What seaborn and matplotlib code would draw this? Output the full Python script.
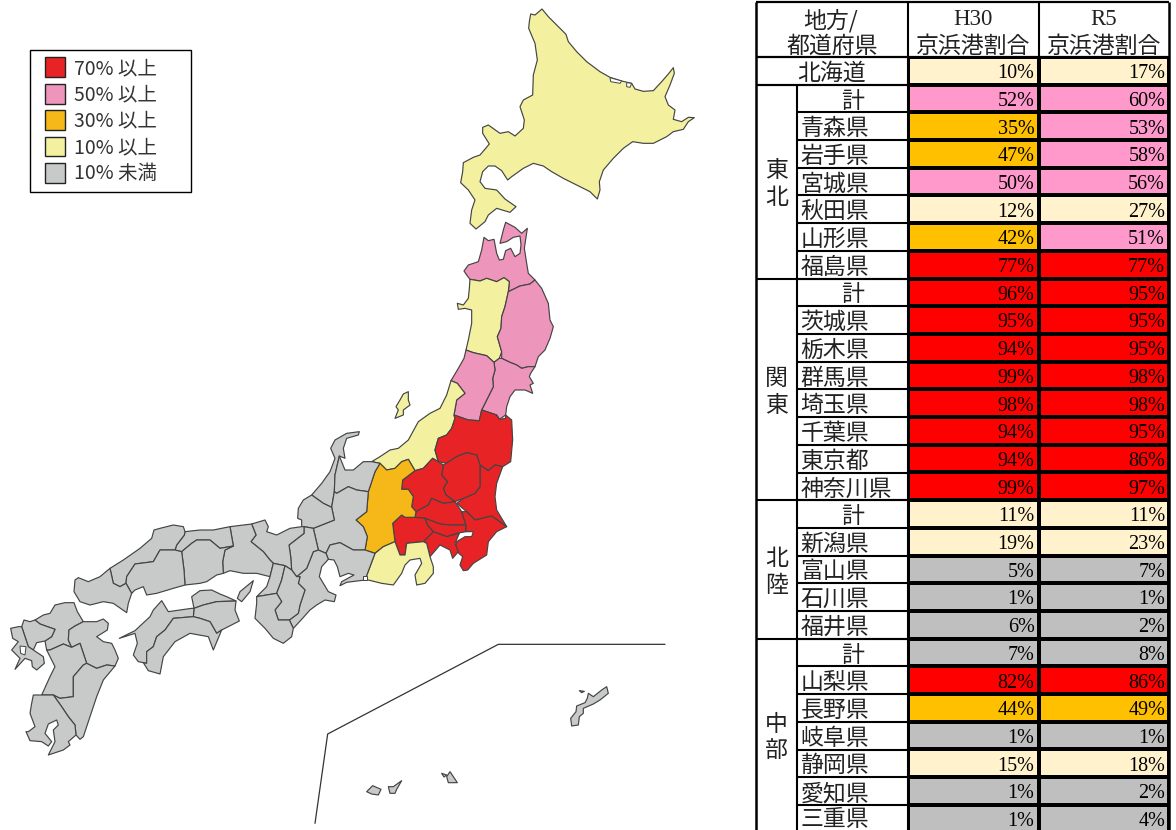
import numpy as np
import pandas as pd
import seaborn as sns
import matplotlib.pyplot as plt
from matplotlib.colors import ListedColormap, BoundaryNorm
from matplotlib.legend_handler import HandlerPatch
from matplotlib.patches import Patch, Polygon

# table data
regions = ['東北', '関東', '北陸', '中部']
region_sizes = [7, 8, 5, 7]
names = ['北海道',
         '計', '青森県', '岩手県', '宮城県', '秋田県', '山形県', '福島県',
         '計', '茨城県', '栃木県', '群馬県', '埼玉県', '千葉県', '東京都', '神奈川県',
         '計', '新潟県', '富山県', '石川県', '福井県',
         '計', '山梨県', '長野県', '岐阜県', '静岡県', '愛知県', '三重県']
h30 = [10,
       52, 35, 47, 50, 12, 42, 77,
       96, 95, 94, 99, 98, 94, 94, 99,
       11, 19, 5, 1, 6,
       7, 82, 44, 1, 15, 1, 1]
r5 = [17,
      60, 53, 58, 56, 27, 51, 77,
      95, 95, 95, 98, 98, 95, 86, 97,
      11, 23, 7, 1, 2,
      8, 86, 49, 1, 18, 2, 4]

# classes
bins = [0, 10, 30, 50, 70, 101]
legend_labels = ['70% 以上', '50% 以上', '30% 以上', '10% 以上', '10% 未満']
table_colors = ['#BFBFBF', '#FFF2CC', '#FFC000', '#FF99CC', '#FF0000']
map_colors = ['#C8CAC9', '#F3F19F', '#F6B818', '#EE95BC', '#E82325']

# prefecture outlines: (left, top of the trace window), then points at 3x
north = (440, 0)
tohoku = (340, 210)
kanto = (340, 400)
west = (0, 420)
south = (300, 630)

outlines = {
    '北海道': (north, [(272,42),(285,45),(306,27),(325,50),(350,75),(378,103),(385,125),(410,155),(440,185),(480,215),(510,232),(545,243),(575,250),(585,267),(610,274),(640,272),(665,245),(685,222),(700,203),(703,220),(690,255),(675,290),(685,315),(705,330),(700,358),(725,365),(745,352),(763,353),(745,365),(730,388),(700,395),(680,410),(660,420),(640,430),(610,430),(578,425),(550,445),(520,475),(490,510),(478,545),(480,570),(472,597),(450,575),(410,555),(370,535),(335,515),(310,498),(280,490),(250,505),(215,530),(203,540),(185,512),(165,498),(145,498),(128,515),(120,545),(135,565),(170,570),(195,597),(228,620),(210,637),(170,625),(145,645),(135,665),(108,687),(90,670),(95,630),(105,600),(85,570),(62,548),(68,515),(70,488),(100,472),(120,465),(148,432),(128,400),(128,382),(145,375),(180,400),(205,395),(225,408),(250,385),(253,360),(240,320),(250,300),(278,285),(280,225),(292,180),(285,130),(266,85),(268,65)]),
    '青森県': (tohoku, [(372,183),(385,165),(415,155),(425,120),(432,82),(445,92),(462,88),(470,130),(478,150),(490,148),(497,122),(512,115),(525,140),(540,130),(543,105),(540,78),(520,82),(500,95),(480,100),(490,60),(497,37),(525,52),(545,70),(562,55),(553,115),(560,160),(565,190),(585,210),(570,222),(540,228),(505,245),(508,215),(492,203),(470,215),(440,205),(420,213),(390,208),(380,195)]),
    '秋田県': (tohoku, [(390,208),(420,213),(440,205),(470,215),(492,203),(508,215),(505,245),(495,290),(485,320),(483,355),(472,380),(485,425),(478,445),(462,457),(440,437),(400,428),(378,420),(385,390),(395,340),(395,300),(375,295),(355,298),(352,280),(370,285),(385,265),(388,235)]),
    '岩手県': (tohoku, [(505,245),(540,228),(570,222),(585,210),(605,235),(625,280),(630,330),(640,350),(630,385),(615,420),(595,440),(585,470),(565,470),(545,475),(530,465),(510,457),(485,445),(485,425),(472,380),(483,355),(485,320),(495,290)]),
    '宮城県': (tohoku, [(485,445),(510,457),(530,465),(545,475),(565,470),(585,470),(572,490),(568,500),(580,520),(570,525),(578,550),(555,540),(525,540),(510,560),(500,590),(497,615),(478,628),(470,615),(440,605),(425,600),(440,570),(460,530),(458,505),(465,480),(462,457),(478,445)]),
    '山形県': (tohoku, [(378,420),(400,428),(440,437),(462,457),(465,480),(458,505),(460,530),(440,570),(425,600),(418,632),(385,630),(342,615),(350,570),(375,550),(352,520),(333,512),(355,475),(372,445)]),
    '佐渡': (tohoku, [(205,545),(205,570),(210,585),(190,600),(190,615),(165,625),(175,600),(168,590),(180,570),(190,552)]),
    '新潟県': (kanto, [(333,-58),(352,-50),(375,-20),(350,0),(342,45),(345,55),(335,85),(320,105),(295,115),(285,150),(295,185),(278,175),(250,205),(225,212),(205,178),(185,185),(165,205),(140,210),(120,190),(95,185),(120,170),(150,150),(175,145),(205,120),(235,65),(270,40),(300,25),(320,-15)]),
    '福島県': (kanto, [(345,55),(342,45),(385,60),(418,62),(425,30),(440,35),(470,45),(478,58),(497,55),(497,45),(515,60),(518,120),(512,185),(488,200),(465,195),(445,212),(420,195),(410,165),(380,158),(350,170),(320,190),(295,185),(285,150),(295,115),(320,105),(335,85)]),
    '茨城県': (kanto, [(488,200),(470,250),(465,290),(470,330),(500,380),(455,348),(405,360),(380,335),(350,310),(370,295),(405,280),(420,260),(420,195),(445,212),(465,195)]),
    '栃木県': (kanto, [(380,158),(410,165),(420,195),(420,260),(405,280),(370,295),(345,305),(318,285),(310,265),(322,245),(305,225),(310,195),(350,170)]),
    '群馬県': (kanto, [(278,175),(295,185),(310,195),(305,225),(322,245),(310,265),(318,285),(345,305),(310,310),(275,295),(265,315),(228,335),(215,320),(220,290),(205,268),(185,268),(188,240),(225,212),(250,205)]),
    '埼玉県': (kanto, [(228,335),(265,315),(275,295),(310,310),(345,305),(365,335),(378,375),(330,375),(300,372),(255,355),(225,352)]),
    '東京都': (kanto, [(255,355),(300,372),(330,375),(378,375),(378,395),(350,400),(320,410),(280,395),(262,375)]),
    '千葉県': (kanto, [(365,335),(380,335),(405,360),(455,348),(500,380),(470,395),(445,425),(440,465),(400,490),(383,510),(370,512),(360,495),(368,470),(345,450),(350,425),(375,410),(395,410),(400,395),(378,395),(378,375)]),
    '神奈川県': (kanto, [(280,395),(320,410),(358,400),(345,430),(355,455),(338,475),(330,450),(300,435),(270,470),(260,430),(250,425)]),
    '山梨県': (kanto, [(225,352),(255,355),(262,375),(280,395),(250,425),(200,430),(195,465),(180,465),(165,425),(158,370),(185,345),(195,352)]),
    '長野県': (kanto, [(120,190),(140,210),(165,205),(185,185),(205,178),(225,212),(188,240),(185,268),(205,268),(220,290),(215,320),(228,335),(225,352),(195,352),(185,345),(158,370),(165,425),(130,440),(105,460),(75,450),(82,410),(70,380),(48,360),(80,335),(85,275),(105,215)]),
    '静岡県': (kanto, [(165,425),(180,465),(195,465),(200,430),(250,425),(260,430),(270,470),(280,500),(280,520),(255,550),(230,555),(225,525),(245,490),(240,475),(210,480),(195,495),(185,520),(160,555),(125,550),(85,540),(75,540),(105,460),(130,440)]),
    '石川県': (west, [(1078,35),(1075,45),(1040,55),(1030,85),(1035,115),(1018,108),(1005,165),(1003,215),(995,262),(970,250),(935,225),(965,190),(990,155),(1005,115),(992,85),(1005,60),(1040,40)]),
    '富山県': (west, [(1018,108),(1035,150),(1060,150),(1090,125),(1115,125),(1140,130),(1125,155),(1105,215),(1070,210),(1045,200),(1010,220),(1003,215),(1005,165)]),
    '岐阜県': (west, [(995,262),(1003,215),(1010,220),(1045,200),(1070,210),(1105,215),(1100,275),(1068,300),(1090,320),(1102,350),(1095,390),(1060,390),(1020,368),(990,375),(978,400),(955,390),(940,325),(1003,300)]),
    '福井県': (west, [(935,225),(970,250),(995,262),(1003,300),(940,325),(912,320),(905,320),(905,300),(893,295),(895,265),(910,240)]),
    '愛知県': (west, [(978,400),(990,375),(1020,368),(1060,390),(1095,390),(1125,400),(1095,480),(1040,487),(1020,497),(1025,485),(1062,465),(1045,460),(1020,470),(1012,440),(1002,420),(985,418)]),
    '三重県': (west, [(955,390),(978,400),(985,418),(965,440),(958,470),(985,515),(1008,525),(1003,545),(975,540),(950,555),(930,570),(905,598),(880,625),(868,600),(895,580),(900,555),(915,510),(895,490),(900,470),(890,470),(920,445),(940,395)]),
    '滋賀県': (west, [(867,375),(912,340),(912,320),(940,325),(955,390),(940,395),(920,445),(890,470),(875,450),(872,410)]),
    '京都府': (west, [(755,312),(795,300),(805,320),(800,335),(830,345),(870,325),(905,320),(912,320),(912,340),(867,375),(872,410),(875,450),(855,437),(820,430),(810,420),(790,395),(753,365),(768,345)]),
    '兵庫県': (west, [(690,320),(755,312),(768,345),(753,365),(790,395),(810,420),(820,430),(810,470),(770,460),(730,460),(690,452),(670,460),(668,425),(675,390),(700,378)]),
    '大阪府': (west, [(820,430),(855,437),(845,480),(830,520),(800,525),(770,530),(800,500),(810,470)]),
    '奈良県': (west, [(855,437),(875,450),(890,470),(900,470),(895,490),(915,510),(900,555),(895,580),(868,600),(835,600),(825,570),(845,545),(830,520),(845,480)]),
    '和歌山県': (west, [(770,530),(800,525),(830,520),(845,545),(825,570),(835,600),(868,600),(880,625),(875,650),(850,670),(820,655),(795,625),(765,595),(770,550)]),
    '淡路島': (west, [(760,482),(750,515),(725,545),(712,535),(720,515)]),
    '鳥取県': (west, [(555,335),(600,330),(640,330),(690,320),(700,378),(660,385),(630,360),(590,360),(575,370),(545,395),(525,390),(530,375),(553,345)]),
    '岡山県': (west, [(545,395),(575,370),(590,360),(630,360),(660,385),(700,378),(675,390),(668,425),(670,460),(650,465),(620,485),(600,490),(555,495),(552,450)]),
    '島根県': (west, [(330,445),(370,420),(420,385),(455,355),(462,330),(480,325),(520,315),(550,320),(555,335),(553,345),(530,375),(525,390),(480,390),(460,425),(405,432),(380,470),(378,490),(360,500),(340,490)]),
    '広島県': (west, [(405,432),(460,425),(480,390),(525,390),(545,395),(552,450),(555,495),(520,505),(470,520),(440,525),(430,500),(405,510),(395,520),(378,490),(380,470)]),
    '山口県': (west, [(222,515),(225,480),(235,473),(265,485),(300,470),(330,445),(340,490),(360,500),(378,490),(395,520),(385,550),(380,578),(340,550),(310,545),(270,555),(240,545)]),
    '香川県': (west, [(575,530),(600,512),(635,510),(660,522),(680,530),(708,543),(650,545),(610,555),(582,565)]),
    '徳島県': (west, [(582,565),(610,555),(650,545),(708,543),(705,570),(718,603),(665,630),(650,640),(630,605),(600,595),(580,590)]),
    '愛媛県': (west, [(358,655),(405,632),(450,590),(460,570),(485,542),(505,575),(540,570),(575,565),(582,565),(580,590),(520,595),(495,630),(470,650),(460,680),(440,695),(440,730),(415,725),(400,705),(412,670),(405,640)]),
    '高知県': (west, [(520,595),(580,590),(600,595),(630,605),(650,640),(665,630),(640,690),(625,650),(570,640),(525,665),(490,710),(480,762),(445,752),(430,728),(440,730),(440,695),(460,680),(470,650),(495,630)]),
    '福岡県': (west, [(105,600),(130,585),(150,580),(165,555),(195,548),(222,548),(232,575),(250,605),(225,618),(207,630),(205,660),(215,682),(190,672),(150,690),(140,690),(135,663),(155,650),(165,628),(120,612)]),
    '佐賀県': (west, [(65,620),(72,600),(90,605),(105,600),(120,612),(165,628),(155,650),(135,663),(110,668),(100,690),(85,680),(75,650)]),
    '長崎県': (west, [(32,625),(55,620),(65,620),(75,650),(85,680),(100,690),(130,710),(133,730),(110,750),(97,740),(95,722),(75,715),(45,748),(60,715),(35,690),(55,665),(38,655)]),
    '大分県': (west, [(250,605),(290,605),(310,597),(325,610),(322,630),(290,650),(310,665),(335,670),(345,690),(355,715),(345,738),(320,735),(290,745),(260,730),(250,700),(240,670),(215,682),(205,660),(207,630),(225,618)]),
    '熊本県': (west, [(140,690),(150,690),(190,672),(215,682),(240,670),(250,700),(260,730),(250,735),(220,770),(220,830),(180,835),(160,825),(125,825),(150,770),(165,740)]),
    '宮崎県': (west, [(260,730),(290,745),(320,735),(345,738),(310,780),(290,830),(270,890),(250,950),(240,958),(228,945),(225,915),(205,890),(185,860),(160,825),(180,835),(220,830),(220,770),(250,735)]),
    '鹿児島県': (west, [(125,825),(100,825),(95,850),(90,880),(105,920),(85,935),(78,935),(90,962),(125,965),(145,978),(155,965),(135,940),(145,912),(170,900),(175,915),(160,930),(165,965),(145,1005),(190,990),(210,975),(205,965),(228,945),(225,915),(205,890),(185,860),(160,825)]),
    '沖縄本島': (south, [(920,170),(925,190),(900,210),(880,222),(850,235),(850,250),(838,260),(835,285),(815,288),(812,265),(828,245),(830,228),(855,218),(862,205),(865,190),(880,200),(905,180)]),
    '伊江島': (south, [(838,182),(853,184),(845,188)]),
    '宮古島': (south, [(450,425),(472,458),(445,458),(440,440)]),
    '伊良部島': (south, [(425,430),(440,435),(432,441)]),
    '石垣島': (south, [(265,470),(280,470),(305,452),(290,478),(285,490),(270,490)]),
    '西表島': (south, [(200,485),(218,467),(243,478),(235,495),(215,492)]),
}
lakes = [(north, [(510,233),(545,243),(540,250),(512,245)]),
         (north, [(560,248),(575,250),(570,262),(560,260)]),
         (west, [(60,678),(78,680),(75,705),(62,700)]),
         (kanto, [(68,527),(80,527),(80,540),(68,540)])]
inset_line = (south, [(1095,43),(595,43),(83,312),(45,580)])

# shares used on the map come from the R5 column, everything else is below 10%
map_share = {n: v for n, v in zip(names, r5) if n != '計'}
map_share['佐渡'] = map_share['新潟県']


def to_px(trace):
    (left, top), pts = trace
    pts = np.array(pts, dtype=float)
    return np.column_stack([left + pts[:, 0] / 3, top + pts[:, 1] / 3])


sns.set_style('white')
plt.rcParams['font.family'] = ['Noto Sans CJK JP', 'DejaVu Sans']
serif = ['Liberation Serif', 'Noto Sans CJK JP']

W, H = 1176, 830
fig = plt.figure(figsize=(W / 100, H / 100), dpi=100)
ax = fig.add_axes([0, 0, 1, 1])
ax.set_xlim(0, W)
ax.set_ylim(H, 0)
ax.axis('off')

# map
for name, trace in outlines.items():
    cls = np.digitize(map_share.get(name, 0), bins) - 1
    ax.add_patch(Polygon(to_px(trace), closed=True, facecolor=map_colors[cls],
                         edgecolor='#444444', linewidth=0.85, joinstyle='round'))
for lake in lakes:
    ax.add_patch(Polygon(to_px(lake), closed=True, facecolor='white', edgecolor='#444444', linewidth=0.7))
line_px = to_px(inset_line)
ax.plot(line_px[:, 0], line_px[:, 1], color='#333333', lw=0.9)

# legend
handles = [Patch(facecolor=map_colors[i], edgecolor='#222222', linewidth=1.0) for i in [4, 3, 2, 1, 0]]
leg = ax.legend(handles, legend_labels, loc='upper left',
                bbox_to_anchor=(30 / W, 1 - 192 / H, 161 / W, 142 / H), bbox_transform=ax.transAxes,
                mode='expand', frameon=True, fancybox=False, framealpha=1,
                edgecolor='black', fontsize=14, labelcolor='#333333', handlelength=1.42,
                handleheight=1.2, handletextpad=0.46, labelspacing=0.25, borderpad=0.38,
                borderaxespad=0, handler_map={Patch: HandlerPatch(xpad=0.39)})
leg.get_frame().set_linewidth(1.0)

# table
col_x = [756, 797, 908, 1038.5, 1169]
row_top = 57
row_h = 27.7
table = pd.DataFrame({'H30': h30, 'R5': r5}, index=range(len(names)))
hax = fig.add_axes([col_x[2] / W, 1 - (row_top + row_h * len(names)) / H,
                    (col_x[4] - col_x[2]) / W, row_h * len(names) / H])
sns.heatmap(table, ax=hax, cmap=ListedColormap(table_colors), norm=BoundaryNorm(bins, 5),
            cbar=False, xticklabels=False, yticklabels=False, linewidths=1.5, linecolor='black',
            annot=table.map(lambda v: f'{v}%').values, fmt='',
            annot_kws={'fontsize': 14.5, 'family': serif, 'color': 'black'})
hax.set_xlabel('')
hax.set_ylabel('')
for t in hax.texts:
    x, y = t.get_position()
    t.set_position((np.floor(x) + 0.97, y + 0.1))
    t.set_ha('right')

# row labels, the last row sits a little higher so that it stays inside the picture
jp = 16.5
shift = 2.5
y_of = lambda i: min(row_top + row_h * (i + 0.5) + shift, 819.5)
ax.text((col_x[0] + col_x[2]) / 2, y_of(0), names[0], ha='center', va='center', fontsize=jp, color='#222222')
for i, n in enumerate(names[1:], 1):
    if n == '計':
        ax.text((col_x[1] + col_x[2]) / 2, y_of(i), n, ha='center', va='center', fontsize=jp, color='#222222')
    else:
        ax.text(col_x[1] + 3.5, y_of(i), n, ha='left', va='center', fontsize=jp, color='#222222')

# region labels and grid lines
start = 1
ax.hlines(row_top + row_h, col_x[0], col_x[2], color='black', lw=1.5)
for region, size in zip(regions, region_sizes):
    mid = row_top + row_h * (start + size / 2) + shift
    ax.text((col_x[0] + col_x[1]) / 2, mid - 13.5, region[0], ha='center', va='center', fontsize=jp, color='#222222')
    ax.text((col_x[0] + col_x[1]) / 2, mid + 13.5, region[1], ha='center', va='center', fontsize=jp, color='#222222')
    ax.hlines([row_top + row_h * k for k in range(start, start + size + 1)], col_x[1], col_x[2], color='black', lw=1.5)
    ax.hlines([row_top + row_h * start], col_x[0], col_x[1], color='black', lw=1.5)
    start += size

# header
ax.hlines([2, row_top], col_x[0], col_x[4], color='black', lw=1.6)
ax.vlines([col_x[0], col_x[4]], 2, H, color='black', lw=1.8)
ax.vlines(col_x[1], row_top + row_h, H, color='black', lw=1.5)
ax.vlines(col_x[2:4], 2, H, color='black', lw=1.5)
ax.text(831, 18 + shift, '地方/', ha='center', va='center', fontsize=jp, color='#222222')
ax.text(832, 44 + shift, '都道府県', ha='center', va='center', fontsize=jp, color='#222222')
for cx, head in zip([973, 1104], ['H30', 'R5']):
    ax.text(cx, 19.5, head, ha='center', va='center', fontsize=16.5, family=serif, color='#222222')
    ax.text(cx, 44 + shift, '京浜港割合', ha='center', va='center', fontsize=jp, color='#222222')

fig.savefig('out.png', dpi=100)
